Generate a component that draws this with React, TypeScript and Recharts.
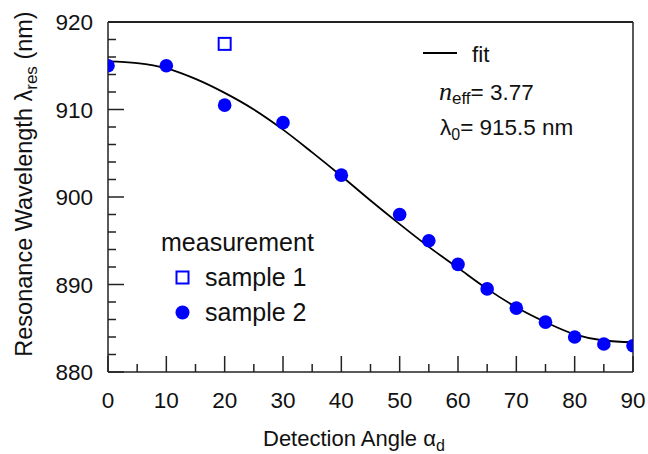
import React from "react";
import { ComposedChart, Line, Scatter, XAxis, YAxis, ReferenceLine, Label } from "recharts";

// fit curve, every 5 degrees
const fitAngles = [0, 5, 10, 15, 20, 25, 30, 35, 40, 45, 50, 55, 60, 65, 70, 75, 80, 85, 90];
const fitValues = [915.5, 915.3, 914.7, 913.5, 911.9, 910.0, 907.7, 905.1, 902.4, 899.6, 896.9, 894.3, 891.9, 889.5, 887.4, 885.7, 884.3, 883.6, 883.4];

// measurements
const sample1Angles = [20];
const sample1Values = [917.5];
const sample2Angles = [0, 10, 20, 30, 40, 50, 55, 60, 65, 70, 75, 80, 85, 90];
const sample2Values = [915.0, 915.0, 910.5, 908.5, 902.5, 898.0, 895.0, 892.3, 889.5, 887.3, 885.7, 884.0, 883.2, 883.0];

const xTicks = [0, 5, 10, 15, 20, 25, 30, 35, 40, 45, 50, 55, 60, 65, 70, 75, 80, 85, 90];
const yTicks = [880, 882, 884, 886, 888, 890, 892, 894, 896, 898, 900, 902, 904, 906, 908, 910, 912, 914, 916, 918, 920];

const FONT = '"Liberation Sans", Arial, Helvetica, sans-serif';
const SERIF = '"Liberation Serif", "Times New Roman", serif';
const AXIS = "#222";
const TEXT = "#111";
const BLUE = "#0000ff";

const fitData = fitAngles.map((angle, i) => ({ angle, fit: fitValues[i] }));
const sample1 = sample1Angles.map((angle, i) => ({ angle, value: sample1Values[i] }));
const sample2 = sample2Angles.map((angle, i) => ({ angle, value: sample2Values[i] }));

const XTick = ({ x, y, payload }: any) => {
  const v = payload.value;
  const major = v % 10 === 0;
  return (
    <g>
      <line x1={x} x2={x} y1={y} y2={y - (major ? 16 : 8)} stroke={AXIS} strokeWidth={1.5} />
      {major && (
        <text x={x} y={y + 36} textAnchor="middle" fontSize={22.5} fontFamily={FONT} fill={TEXT}>
          {v}
        </text>
      )}
    </g>
  );
};

const YTick = ({ x, y, payload }: any) => {
  const v = payload.value;
  const major = v % 10 === 0;
  return (
    <g>
      <line x1={x} x2={x + (major ? 16 : 8)} y1={y} y2={y} stroke={AXIS} strokeWidth={1.5} />
      {major && (
        <text x={x - 15} y={y + 8} textAnchor="end" fontSize={22.5} fontFamily={FONT} fill={TEXT}>
          {v}
        </text>
      )}
    </g>
  );
};

const Dot = ({ cx, cy }: any) => <circle cx={cx} cy={cy} r={6.8} fill={BLUE} />;
const Square = ({ cx, cy }: any) => (
  <rect x={cx - 6} y={cy - 6} width={12} height={12} fill="#fff" stroke={BLUE} strokeWidth={2} />
);

const XTitle = () => (
  <text x={263} y={446} fontSize={22} fontFamily={FONT} fill={TEXT}>
    Detection Angle α<tspan fontSize={16} dy={5}>d</tspan>
  </text>
);

const YTitle = () => (
  <text
    x={0}
    y={0}
    transform="translate(32,184) rotate(-90)"
    textAnchor="middle"
    fontSize={23.5}
    fontFamily={FONT}
    fill={TEXT}
  >
    Resonance Wavelength λ<tspan fontSize={17} dy={5}>res</tspan>
    <tspan dy={-5}> (nm)</tspan>
  </text>
);

export default function App() {
  return (
    <div style={{ position: "absolute", left: 0, top: 0, width: 648, height: 454, background: "#fff" }}>
      <ComposedChart width={648} height={454} data={fitData} margin={{ top: 22, right: 15, bottom: 32, left: 0 }}>
        <XAxis
          dataKey="angle"
          type="number"
          domain={[0, 90]}
          ticks={xTicks}
          interval={0}
          tickSize={0}
          tickMargin={0}
          tick={<XTick />}
          height={50}
          stroke={AXIS}
          strokeWidth={1.5}
          allowDataOverflow
        >
          <Label content={<XTitle />} />
        </XAxis>
        <YAxis
          type="number"
          domain={[880, 920]}
          ticks={yTicks}
          interval={0}
          tickSize={0}
          tickMargin={0}
          tick={<YTick />}
          width={108}
          stroke={AXIS}
          strokeWidth={1.5}
          allowDataOverflow
        >
          <Label content={<YTitle />} />
        </YAxis>
        <ReferenceLine y={920} stroke={AXIS} strokeWidth={2} />
        <ReferenceLine x={90} stroke={AXIS} strokeWidth={1.5} />
        <Line dataKey="fit" type="monotone" stroke="#000" strokeWidth={1.8} dot={false} isAnimationActive={false} />
        <Scatter data={sample1} dataKey="value" shape={<Square />} isAnimationActive={false} />
        <Scatter data={sample2} dataKey="value" shape={<Dot />} isAnimationActive={false} />
      </ComposedChart>
      <svg width={648} height={454} style={{ position: "absolute", left: 0, top: 0, pointerEvents: "none" }}>
        <g fontFamily={FONT} fontSize={22.5} fill={TEXT}>
          <line x1={423} x2={457} y1={53} y2={53} stroke="#000" strokeWidth={1.8} />
          <text x={472} y={62}>fit</text>
          <text x={439} y={100}>
            <tspan fontFamily={SERIF} fontStyle="italic" fontSize={26}>n</tspan>
            <tspan fontSize={17} dy={4}>eff</tspan>
            <tspan dy={-4}>= 3.77</tspan>
          </text>
          <text x={440} y={135}>
            λ<tspan fontSize={16} dy={5}>0</tspan>
            <tspan dy={-5}>= 915.5 nm</tspan>
          </text>
        </g>
        <g fontFamily={FONT} fontSize={25} fill={TEXT}>
          <text x={161} y={251}>measurement</text>
          <rect x={176.5} y={271.5} width={12} height={12} fill="#fff" stroke={BLUE} strokeWidth={2} />
          <text x={205} y={286}>sample 1</text>
          <circle cx={182.5} cy={312.5} r={7} fill={BLUE} />
          <text x={205} y={321}>sample 2</text>
        </g>
      </svg>
    </div>
  );
}
